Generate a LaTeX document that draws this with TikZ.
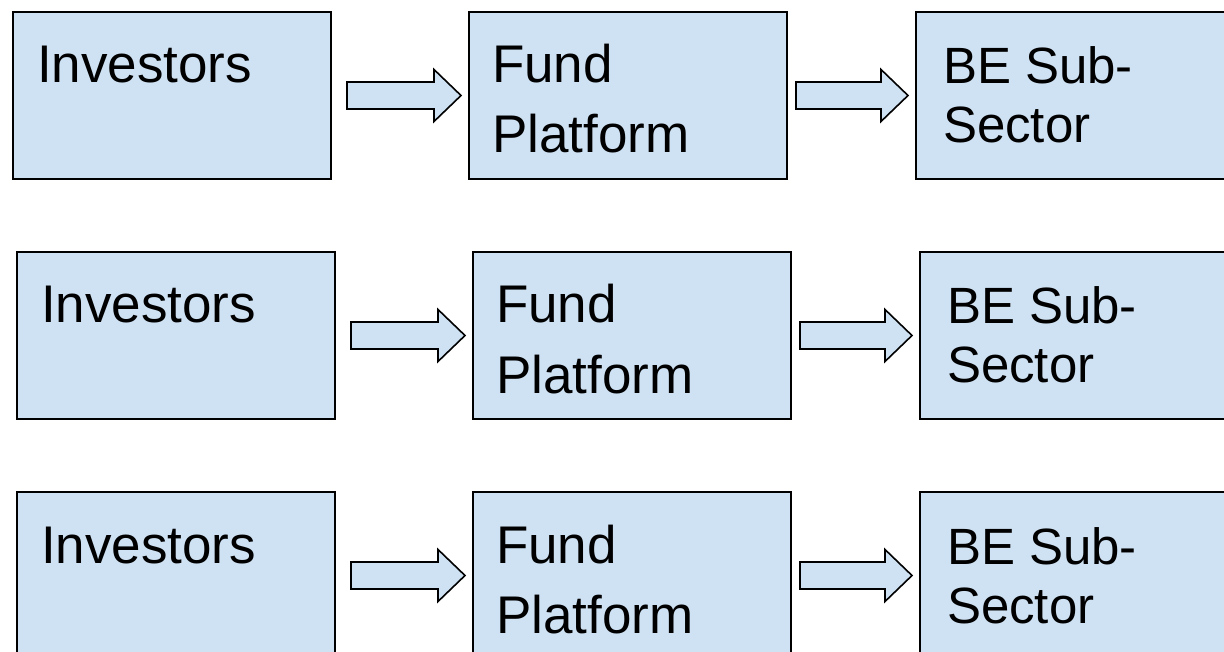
\documentclass[tikz,border=0pt]{standalone}
\usepackage{fontspec}
\setmainfont{Liberation Sans}
\usetikzlibrary{calc}

\definecolor{boxfill}{HTML}{CFE2F3}

% Text block inside a box: #1 left indent, #2 first baseline below the top,
% #3 font size, #4 line distance, #5 lines
\newcommand\boxlines[5]{%
  \parbox[c][167pt][t]{318pt}{\fontsize{#3}{#4}\selectfont
    \raggedright\leftskip=#1\relax\rule{0pt}{#2}#5}}

% Block arrow from coordinate #1 (tail) to coordinate #2 (tip)
\newcommand\blockarrow[2]{%
  \draw[flowarrow] ($(#1)+(0,-13.5)$) -- ($(#2)+(-27,-13.5)$)
    -- ($(#2)+(-27,-26)$) -- (#2) -- ($(#2)+(-27,26)$)
    -- ($(#2)+(-27,13.5)$) -- ($(#1)+(0,13.5)$) -- cycle;}

\tikzset{
  stagebox/.style={draw=black, line width=2pt, fill=boxfill,
    rectangle, inner sep=0pt, anchor=north west},
  flowarrow/.style={draw=black, line width=1.6pt, fill=boxfill,
    line join=miter},
}

\begin{document}
\begin{tikzpicture}[x=1pt,y=-1pt]
  \useasboundingbox (0,0) rectangle (1224,652);
  \clip (0,0) rectangle (1224,652);

  % three identical rows of the flow
  \foreach \r/\dx/\dy in {1/0/0, 2/4/240, 3/4/480} {
    \node[stagebox] (inv\r) at (12+\dx, 11+\dy)
      {\boxlines{24pt}{71pt}{53pt}{70pt}{Investors}};
    \node[stagebox] (fund\r) at (468+\dx, 11+\dy)
      {\boxlines{23pt}{71pt}{53pt}{70pt}{Fund\\Platform}};
    \node[stagebox] (be\r) at (915+\dx, 11+\dy)
      {\boxlines{27pt}{72pt}{51pt}{59pt}{BE Sub-\\Sector}};

    \coordinate (a\r tail) at ($(inv\r.east)+(15,0)$);
    \coordinate (a\r tip) at ($(fund\r.west)+(-7,0)$);
    \coordinate (b\r tail) at ($(fund\r.east)+(8,0)$);
    \coordinate (b\r tip) at ($(be\r.west)+(-7,0)$);
    \blockarrow{a\r tail}{a\r tip}
    \blockarrow{b\r tail}{b\r tip}
  }
\end{tikzpicture}
\end{document}
